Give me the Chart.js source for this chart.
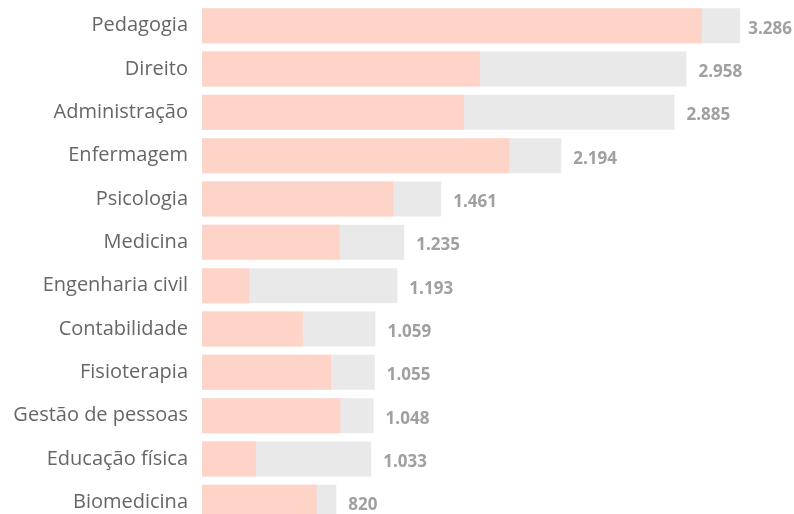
<!DOCTYPE html>
<html>
<head>
<meta charset="utf-8">
<script src="https://cdn.jsdelivr.net/npm/chart.js@4.4.0/dist/chart.umd.min.js"></script>
<style>
  html, body { margin: 0; padding: 0; background: #fff; overflow: hidden; }
  #wrap { width: 794px; height: 556px; margin-top: -14px; }
</style>
</head>
<body>
<div id="wrap"><canvas id="cursosChart"></canvas></div>
<script>
const cursos = ['Pedagogia', 'Direito', 'Administração', 'Enfermagem', 'Psicologia', 'Medicina',
  'Engenharia civil', 'Contabilidade', 'Fisioterapia', 'Gestão de pessoas', 'Educação física', 'Biomedicina'];
const totais = [3286, 2958, 2885, 2194, 1461, 1235, 1193, 1059, 1055, 1048, 1033, 820];
const mulheres = [3052, 1698, 1600, 1877, 1169, 841, 289, 615, 788, 845, 330, 700];

// value label at the end of each grey bar
const totalLabels = {
  id: 'totalLabels',
  afterDatasetsDraw(chart) {
    const ctx = chart.ctx;
    const meta = chart.getDatasetMeta(1);
    ctx.save();
    ctx.font = 'bold 17px "Open Sans"';
    ctx.fillStyle = '#a0a0a0';
    ctx.textBaseline = 'middle';
    meta.data.forEach((bar, i) => {
      const txt = totais[i].toLocaleString('pt-BR');
      const w = ctx.measureText(txt).width;
      let x = bar.x + 12;
      if (x + w > chart.width - 2) x = chart.width - 2 - w;
      ctx.fillText(txt, x, bar.y + 3);
    });
    ctx.restore();
  }
};

new Chart(document.getElementById('cursosChart'), {
  type: 'bar',
  data: {
    labels: cursos,
    datasets: [
      {
        data: mulheres,
        backgroundColor: '#ffd4c8',
        categoryPercentage: 0.806,
        barPercentage: 1,
        order: 0
      },
      {
        data: totais,
        backgroundColor: '#e9e9e9',
        categoryPercentage: 0.806,
        barPercentage: 1,
        order: 1
      }
    ]
  },
  options: {
    indexAxis: 'y',
    responsive: true,
    maintainAspectRatio: false,
    animation: false,
    layout: { padding: 0 },
    scales: {
      x: {
        display: false,
        min: 0,
        max: 3615
      },
      y: {
        stacked: true,
        grid: { display: false },
        border: { display: false },
        afterFit(scale) { scale.width = 202; },
        ticks: {
          color: '#666',
          padding: 6,
          font: { family: 'Open Sans', size: 20 }
        }
      }
    },
    plugins: {
      legend: { display: false },
      tooltip: { enabled: false }
    }
  },
  plugins: [totalLabels]
});
</script>
</body>
</html>
